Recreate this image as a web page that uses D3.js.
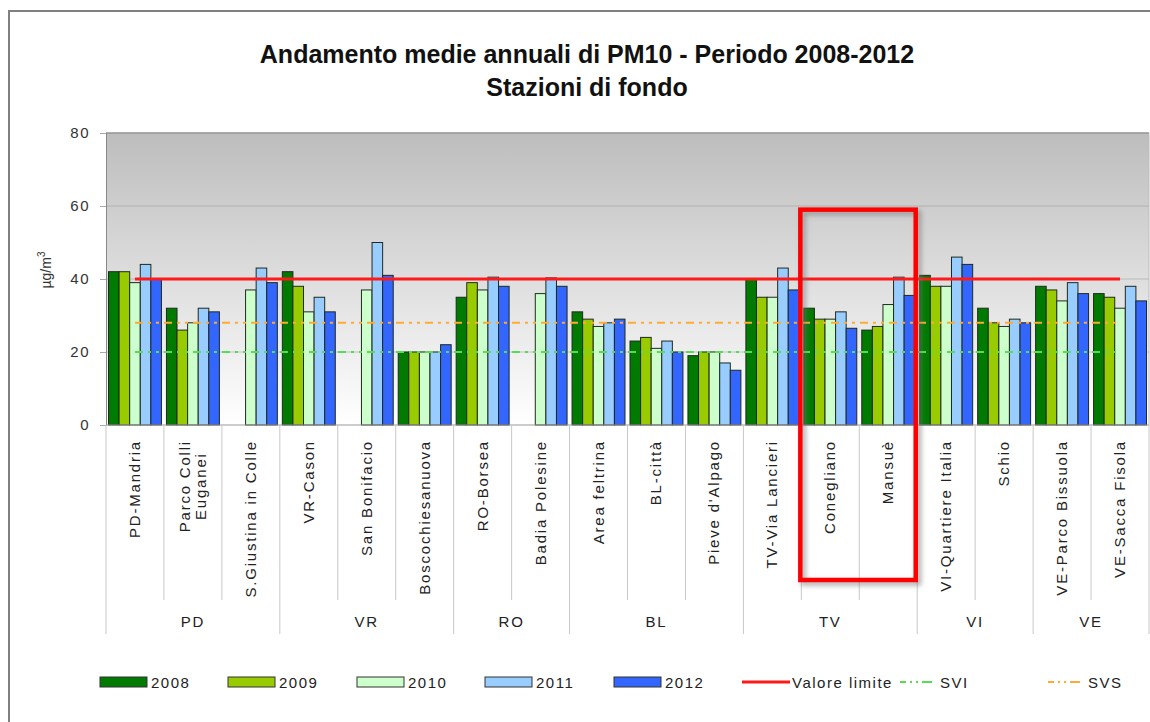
<!DOCTYPE html>
<html>
<head>
<meta charset="utf-8">
<script src="https://cdn.jsdelivr.net/npm/d3@7"></script>
<style>
  body { margin: 0; background: #fff; }
  svg { display: block; font-family: "Liberation Sans", Arial, sans-serif; }
</style>
</head>
<body>
<svg id="chart"></svg>
<script>
const width = 1150;
const height = 722;

// data
const stations = ["PD-Mandria", "Parco Colli\nEuganei", "S.Giustina in Colle", "VR-Cason", "San Bonifacio",
  "Boscochiesanuova", "RO-Borsea", "Badia Polesine", "Area feltrina", "BL-città", "Pieve d'Alpago",
  "TV-Via Lancieri", "Conegliano", "Mansuè", "VI-Quartiere Italia", "Schio", "VE-Parco Bissuola", "VE-Sacca Fisola"];
const groupNames = ["PD", "VR", "RO", "BL", "TV", "VI", "VE"];
const groupSizes = [3, 3, 2, 3, 3, 2, 2];
const years = ["2008", "2009", "2010", "2011", "2012"];
const v2008 = [42, 32, null, 42, null, 20, 35, null, 31, 23, 19, 40, 32, 26, 41, 32, 38, 36];
const v2009 = [42, 26, null, 38, null, 20, 39, null, 29, 24, 20, 35, 29, 27, 38, 28, 37, 35];
const v2010 = [39, 28, 37, 31, 37, 20, 37, 36, 27, 21, 20, 35, 29, 33, 38, 27, 34, 32];
const v2011 = [44, 32, 43, 35, 50, 20, 40.5, 40.3, 28, 23, 17, 43, 31, 40.5, 46, 29, 39, 38];
const v2012 = [40, 31, 39, 31, 41, 22, 38, 38, 29, 20, 15, 37, 26.5, 35.5, 44, 28, 36, 34];
const yTicks = [0, 20, 40, 60, 80];
const valoreLimite = 40;
const sviValue = 20;
const svsValue = 28;
const highlighted = ["Conegliano", "Mansuè"];

const series = [v2008, v2009, v2010, v2011, v2012];
const colors = { "2008": "#007a00", "2009": "#99cc00", "2010": "#ccffcc", "2011": "#99ccff", "2012": "#3366ff" };

const svg = d3.select("#chart").attr("width", width).attr("height", height);

const plot = { left: 106, right: 1149, top: 133, bottom: 425 };

const x0 = d3.scaleBand().domain(stations).range([plot.left, plot.right]).padding(0);
const x1 = d3.scaleBand().domain(years).range([2.5, x0.bandwidth() - 2.5]).padding(0);
const y = d3.scaleLinear().domain([0, 80]).range([plot.bottom, plot.top]);

// outer frame
svg.append("rect")
  .attr("x", 9).attr("y", 11)
  .attr("width", width + 20).attr("height", height + 20)
  .attr("fill", "none").attr("stroke", "#808080").attr("stroke-width", 2);

// title
svg.append("text")
  .attr("x", 587).attr("y", 63)
  .attr("text-anchor", "middle")
  .attr("font-size", "25px").attr("font-weight", "bold").attr("fill", "#111")
  .text("Andamento medie annuali di PM10 - Periodo 2008-2012");
svg.append("text")
  .attr("x", 587).attr("y", 96)
  .attr("text-anchor", "middle")
  .attr("font-size", "25px").attr("font-weight", "bold").attr("fill", "#111")
  .text("Stazioni di fondo");

// plot background gradient
const defs = svg.append("defs");
const grad = defs.append("linearGradient").attr("id", "bg").attr("x1", 0).attr("y1", 0).attr("x2", 0).attr("y2", 1);
grad.append("stop").attr("offset", "0%").attr("stop-color", "#bdbdbd");
grad.append("stop").attr("offset", "100%").attr("stop-color", "#ffffff");

const shadow = defs.append("filter").attr("id", "shadow").attr("x", "-10%").attr("y", "-10%").attr("width", "130%").attr("height", "130%");
shadow.append("feGaussianBlur").attr("stdDeviation", 2.5);

svg.append("rect")
  .attr("x", plot.left).attr("y", plot.top)
  .attr("width", plot.right - plot.left).attr("height", plot.bottom - plot.top)
  .attr("fill", "url(#bg)");

// gridlines
svg.append("g")
  .selectAll("line")
  .data(yTicks.slice(1))
  .join("line")
  .attr("x1", plot.left).attr("x2", plot.right)
  .attr("y1", d => y(d)).attr("y2", d => y(d))
  .attr("stroke", "#999").attr("stroke-opacity", 0.5);

svg.append("line")
  .attr("x1", plot.left).attr("x2", plot.right)
  .attr("y1", plot.top).attr("y2", plot.top)
  .attr("stroke", "#999").attr("stroke-width", 1.5);
svg.append("line")
  .attr("x1", plot.right).attr("x2", plot.right)
  .attr("y1", plot.top).attr("y2", plot.bottom)
  .attr("stroke", "#bbb");

// y axis
const yAxis = svg.append("g")
  .attr("transform", `translate(${plot.left},0)`)
  .call(d3.axisLeft(y).tickValues(yTicks).tickSize(6).tickPadding(10));
yAxis.select(".domain").attr("stroke", "#888");
yAxis.selectAll(".tick line").attr("stroke", "#aaa");
yAxis.selectAll(".tick text")
  .attr("font-size", "15px").attr("fill", "#333").attr("letter-spacing", "1.5px")
  .style("font-family", "'Liberation Sans', Arial, sans-serif");

const yLab = svg.append("text")
  .attr("transform", "translate(51,270) rotate(-90)")
  .attr("text-anchor", "middle")
  .attr("font-size", "14px").attr("fill", "#333");
yLab.append("tspan").text("µg/m");
yLab.append("tspan").attr("dy", "-6").attr("font-size", "10px").text("3");

// bars
const rows = stations.map((s, i) => ({ station: s, values: years.map((yr, j) => ({ year: yr, value: series[j][i] })) }));

svg.append("g")
  .selectAll("g")
  .data(rows)
  .join("g")
  .attr("transform", d => `translate(${x0(d.station)},0)`)
  .selectAll("rect")
  .data(d => d.values.filter(v => v.value != null))
  .join("rect")
  .attr("x", d => x1(d.year))
  .attr("y", d => y(d.value))
  .attr("width", x1.bandwidth())
  .attr("height", d => y(0) - y(d.value))
  .attr("fill", d => colors[d.year])
  .attr("stroke", "#1e2a1e").attr("stroke-width", 1);

// reference lines
const xStart = x0(stations[0]) + x0.bandwidth() / 2;
const xEnd = x0(stations[stations.length - 1]) + x0.bandwidth() / 2;

svg.append("line")
  .attr("x1", xStart).attr("x2", xEnd)
  .attr("y1", y(svsValue)).attr("y2", y(svsValue))
  .attr("stroke", "#ffaa33").attr("stroke-width", 2)
  .attr("stroke-dasharray", "8,5,3,5,3,5");
svg.append("line")
  .attr("x1", xStart).attr("x2", xEnd)
  .attr("y1", y(sviValue)).attr("y2", y(sviValue))
  .attr("stroke", "#55dd55").attr("stroke-width", 2)
  .attr("stroke-dasharray", "8,5,3,5,3,5");
svg.append("line")
  .attr("x1", xStart).attr("x2", xEnd)
  .attr("y1", y(valoreLimite)).attr("y2", y(valoreLimite))
  .attr("stroke", "#ff1a1a").attr("stroke-width", 3);

// x axis: baseline, separators, labels
svg.append("line")
  .attr("x1", plot.left).attr("x2", plot.right)
  .attr("y1", plot.bottom).attr("y2", plot.bottom)
  .attr("stroke", "#999");

let groupBounds = [0];
groupSizes.forEach(n => groupBounds.push(groupBounds[groupBounds.length - 1] + n));

svg.append("g")
  .selectAll("line")
  .data(d3.range(stations.length + 1))
  .join("line")
  .attr("x1", i => plot.left + i * x0.step()).attr("x2", i => plot.left + i * x0.step())
  .attr("y1", plot.bottom)
  .attr("y2", i => groupBounds.includes(i) ? 634 : 600)
  .attr("stroke", "#c8c8c8");

const labelG = svg.append("g");
stations.forEach(s => {
  const cx = x0(s) + x0.bandwidth() / 2;
  const lines = s.split("\n");
  if (lines.length === 1) {
    labelG.append("text")
      .attr("transform", `translate(${cx + 5},440) rotate(-90)`)
      .attr("text-anchor", "end")
      .attr("font-size", "15px").attr("letter-spacing", "1.8px").attr("fill", "#222")
      .text(s);
  } else {
    const t = labelG.append("text")
      .attr("font-size", "15px").attr("letter-spacing", "1.8px").attr("fill", "#222")
      .attr("text-anchor", "middle");
    t.append("tspan").text(lines[0]);
    const w = t.node().getComputedTextLength();
    t.attr("transform", `translate(${cx - 3},${440 + w / 2}) rotate(-90)`);
    t.append("tspan").attr("x", 0).attr("dy", "1.1em").text(lines[1]);
  }
});

svg.append("g")
  .selectAll("text")
  .data(groupNames)
  .join("text")
  .attr("x", (d, i) => plot.left + (groupBounds[i] + groupBounds[i + 1]) / 2 * x0.step())
  .attr("y", 627)
  .attr("text-anchor", "middle")
  .attr("font-size", "15px").attr("letter-spacing", "1.8px").attr("fill", "#222")
  .text(d => d);

// highlight box
const hx1 = x0(highlighted[0]) - 1;
const hx2 = x0(highlighted[1]) + x0.bandwidth() - 1.5;
const hy1 = y(59);
const hy2 = 580;
svg.append("rect")
  .attr("x", hx1 + 3).attr("y", hy1 + 3)
  .attr("width", hx2 - hx1).attr("height", hy2 - hy1)
  .attr("fill", "none").attr("stroke", "#777").attr("stroke-width", 5)
  .attr("stroke-opacity", 0.6).attr("filter", "url(#shadow)");
svg.append("rect")
  .attr("x", hx1).attr("y", hy1)
  .attr("width", hx2 - hx1).attr("height", hy2 - hy1)
  .attr("fill", "none").attr("stroke", "#ff0000").attr("stroke-width", 4.5);

// legend
const legendItems = [
  { label: "2008", type: "rect", color: colors["2008"], x: 100 },
  { label: "2009", type: "rect", color: colors["2009"], x: 228 },
  { label: "2010", type: "rect", color: colors["2010"], x: 357 },
  { label: "2011", type: "rect", color: colors["2011"], x: 485 },
  { label: "2012", type: "rect", color: colors["2012"], x: 614 },
  { label: "Valore limite", type: "solid", color: "#ff1a1a", x: 742 },
  { label: "SVI", type: "dash", color: "#55dd55", x: 900 },
  { label: "SVS", type: "dash", color: "#ffaa33", x: 1048 }
];
const legendY = 682;
const lg = svg.append("g");
legendItems.forEach(d => {
  if (d.type === "rect") {
    lg.append("rect")
      .attr("x", d.x).attr("y", legendY - 5).attr("width", 47).attr("height", 10)
      .attr("fill", d.color).attr("stroke", "#333");
    lg.append("text")
      .attr("x", d.x + 51).attr("y", legendY + 6)
      .attr("font-size", "15px").attr("letter-spacing", "1.5px").attr("fill", "#222")
      .text(d.label);
  } else if (d.type === "solid") {
    lg.append("line")
      .attr("x1", d.x).attr("x2", d.x + 48).attr("y1", legendY).attr("y2", legendY)
      .attr("stroke", d.color).attr("stroke-width", 3);
    lg.append("text")
      .attr("x", d.x + 50).attr("y", legendY + 6)
      .attr("font-size", "15px").attr("letter-spacing", "1.5px").attr("fill", "#222")
      .text(d.label);
  } else {
    lg.append("line")
      .attr("x1", d.x).attr("x2", d.x + 34).attr("y1", legendY).attr("y2", legendY)
      .attr("stroke", d.color).attr("stroke-width", 2)
      .attr("stroke-dasharray", "6,4,2,4,2,4,10");
    lg.append("text")
      .attr("x", d.x + 40).attr("y", legendY + 6)
      .attr("font-size", "15px").attr("letter-spacing", "1.5px").attr("fill", "#222")
      .text(d.label);
  }
});
</script>
</body>
</html>
